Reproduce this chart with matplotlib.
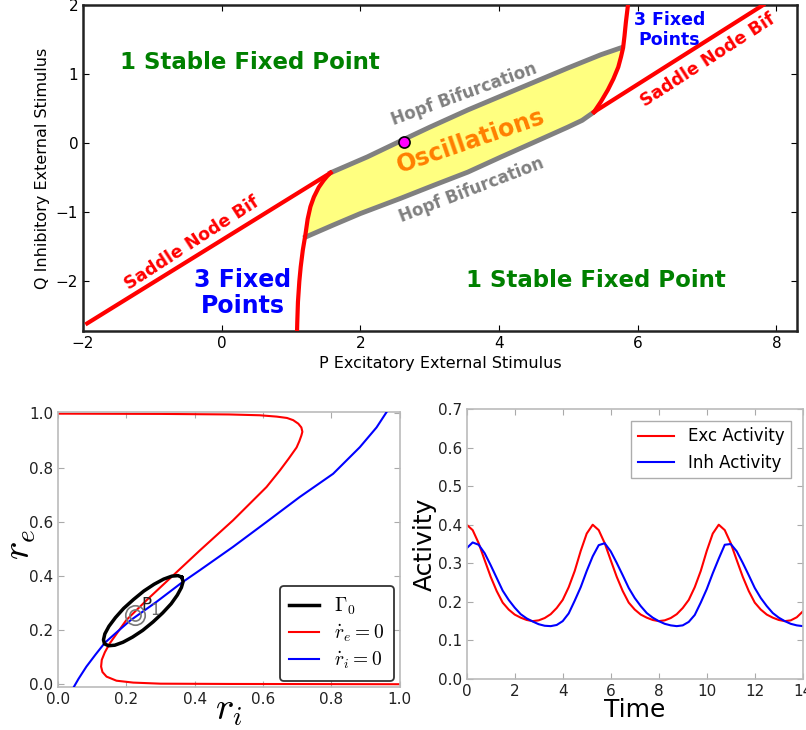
import numpy as np
import matplotlib
matplotlib.use('Agg')
import matplotlib.pyplot as plt

plt.rcParams['mathtext.fontset'] = 'cm'

# ---- bifurcation diagram (P, Q) ----
sn_left_p = [-1.94, 1.57]
sn_left_q = [-2.61, -0.43]
fold_left_p = [1.57, 1.52, 1.47, 1.40, 1.33, 1.28, 1.24, 1.21, 1.17, 1.14, 1.12, 1.10, 1.09, 1.085]
fold_left_q = [-0.43, -0.48, -0.54, -0.64, -0.78, -0.92, -1.10, -1.31, -1.55, -1.79, -2.0, -2.3, -2.6, -2.8]
hopf_up_p = [1.57, 1.8, 2.10, 2.62, 3.0, 3.55, 4.0, 4.50, 5.0, 5.47, 5.76]
hopf_up_q = [-0.43, -0.33, -0.20, 0.05, 0.23, 0.48, 0.67, 0.88, 1.09, 1.28, 1.38]
hopf_low_p = [1.21, 1.6, 2.0, 2.58, 3.06, 3.55, 4.03, 4.50, 4.99, 5.2, 5.37]
hopf_low_q = [-1.36, -1.19, -1.02, -0.80, -0.61, -0.42, -0.20, 0.01, 0.23, 0.33, 0.45]
fold_right_p = [5.37, 5.47, 5.57, 5.65, 5.72, 5.76, 5.79, 5.81, 5.83, 5.86, 5.87]
fold_right_q = [0.45, 0.60, 0.77, 0.93, 1.10, 1.25, 1.38, 1.55, 1.75, 2.0, 2.1]
sn_right_p = [5.37, 7.81]
sn_right_q = [0.45, 2.0]
point_p, point_q = 2.63, 0.02

# ---- phase plane (r_i, r_e) ----
re_null_ri = [0.0, 0.3, 0.5, 0.59, 0.64, 0.67, 0.688, 0.703, 0.712, 0.715, 0.712,
              0.706, 0.698, 0.675, 0.649, 0.61, 0.512, 0.415, 0.337, 0.259, 0.2,
              0.151, 0.137, 0.128, 0.126, 0.13, 0.142, 0.171, 0.22, 0.3, 0.5, 1.0]
re_null_re = [0.999, 0.998, 0.996, 0.993, 0.988, 0.983, 0.975, 0.962, 0.948, 0.932, 0.918,
              0.897, 0.874, 0.833, 0.789, 0.728, 0.605, 0.494, 0.402, 0.31, 0.237,
              0.15, 0.118, 0.09, 0.065, 0.045, 0.028, 0.013, 0.006, 0.002, 0.001, 0.0]
ri_null_ri = [0.044, 0.06, 0.083, 0.11, 0.137, 0.17, 0.21, 0.288, 0.361, 0.415,
              0.512, 0.61, 0.707, 0.805, 0.883, 0.932, 0.961]
ri_null_re = [-0.015, 0.02, 0.065, 0.11, 0.153, 0.19, 0.234, 0.304, 0.374, 0.421,
              0.507, 0.599, 0.691, 0.777, 0.875, 0.948, 1.004]
cycle_ri = [0.362, 0.366, 0.361, 0.349, 0.331, 0.306, 0.278, 0.248, 0.218, 0.190,
            0.166, 0.148, 0.136, 0.133, 0.137, 0.149, 0.168, 0.192, 0.221, 0.251,
            0.281, 0.309, 0.333, 0.351, 0.362]
cycle_re = [0.395, 0.379, 0.357, 0.329, 0.297, 0.263, 0.230, 0.199, 0.174, 0.155,
            0.144, 0.142, 0.149, 0.164, 0.186, 0.214, 0.246, 0.280, 0.313, 0.344,
            0.369, 0.388, 0.399, 0.401, 0.395]
p1_ri, p1_re = 0.225, 0.255

# ---- time series ----
time = [0.0, 0.25, 0.5, 0.75, 1.0, 1.25, 1.5, 1.75, 2.0, 2.25, 2.5, 2.75, 3.0, 3.25,
        3.5, 3.75, 4.0, 4.25, 4.5, 4.75, 5.0, 5.25, 5.5, 5.75, 6.0, 6.25, 6.5, 6.75,
        7.0, 7.25, 7.5, 7.75, 8.0, 8.25, 8.5, 8.75, 9.0, 9.25, 9.5, 9.75, 10.0, 10.25,
        10.5, 10.75, 11.0, 11.25, 11.5, 11.75, 12.0, 12.25, 12.5, 12.75, 13.0, 13.25,
        13.5, 13.75, 14.0]
exc = [0.400, 0.386, 0.352, 0.308, 0.265, 0.228, 0.198, 0.180, 0.167, 0.159, 0.153,
       0.150, 0.152, 0.158, 0.168, 0.184, 0.205, 0.238, 0.280, 0.332, 0.377, 0.400,
       0.386, 0.352, 0.308, 0.265, 0.228, 0.198, 0.180, 0.167, 0.159, 0.153, 0.150,
       0.152, 0.158, 0.168, 0.184, 0.205, 0.238, 0.280, 0.332, 0.377, 0.400, 0.386,
       0.352, 0.308, 0.265, 0.228, 0.198, 0.180, 0.167, 0.159, 0.153, 0.150, 0.152,
       0.160, 0.175]
inh = [0.339, 0.354, 0.348, 0.326, 0.295, 0.262, 0.229, 0.205, 0.185, 0.168, 0.157,
       0.149, 0.142, 0.138, 0.137, 0.140, 0.150, 0.170, 0.203, 0.238, 0.280, 0.318,
       0.347, 0.352, 0.331, 0.301, 0.269, 0.236, 0.210, 0.189, 0.171, 0.159, 0.150,
       0.143, 0.139, 0.137, 0.139, 0.148, 0.166, 0.198, 0.233, 0.274, 0.312, 0.348,
       0.350, 0.331, 0.301, 0.269, 0.236, 0.210, 0.189, 0.171, 0.159, 0.150, 0.143,
       0.139, 0.137]

fig = plt.figure(figsize=(8.06, 7.30), dpi=100)

# top panel: bifurcation diagram
ax = fig.add_axes([0.103, 0.5466, 0.886, 0.4466])
fill_p = hopf_up_p + fold_right_p[6::-1] + hopf_low_p[::-1] + fold_left_p[7::-1]
fill_q = hopf_up_q + fold_right_q[6::-1] + hopf_low_q[::-1] + fold_left_q[7::-1]
ax.fill(fill_p, fill_q, color='#ffff80', zorder=1)
ax.plot(hopf_up_p, hopf_up_q, color='#808080', lw=3.5, zorder=2)
ax.plot(hopf_low_p, hopf_low_q, color='#808080', lw=3.5, zorder=2)
for pp, qq in [(sn_left_p, sn_left_q), (fold_left_p, fold_left_q),
               (fold_right_p, fold_right_q), (sn_right_p, sn_right_q)]:
    ax.plot(pp, qq, color='red', lw=3, zorder=3)
ax.plot(point_p, point_q, 'o', ms=8, mfc='magenta', mec='black', mew=1.2, zorder=4)

ax.text(0.41, 1.16, '1 Stable Fixed Point', color='green', fontsize=16.5,
        fontweight='bold', ha='center', va='center')
ax.text(5.40, -1.99, '1 Stable Fixed Point', color='green', fontsize=16.5,
        fontweight='bold', ha='center', va='center')
ax.text(0.30, -2.17, '3 Fixed\nPoints', color='blue', fontsize=17,
        fontweight='bold', ha='center', va='center', linespacing=1.1)
ax.text(6.46, 1.64, '3 Fixed\nPoints', color='blue', fontsize=12.5,
        fontweight='bold', ha='center', va='center', linespacing=1.1)
ax.text(-0.43, -1.45, 'Saddle Node Bif', color='red', fontsize=12.5, fontweight='bold',
        ha='center', va='center', rotation=33, rotation_mode='anchor')
ax.text(7.01, 1.20, 'Saddle Node Bif', color='red', fontsize=12.5, fontweight='bold',
        ha='center', va='center', rotation=33, rotation_mode='anchor')
ax.text(3.49, 0.71, 'Hopf Bifurcation', color='#808080', fontsize=12, fontweight='bold',
        ha='center', va='center', rotation=20, rotation_mode='anchor')
ax.text(3.61, -0.68, 'Hopf Bifurcation', color='#808080', fontsize=12, fontweight='bold',
        ha='center', va='center', rotation=21, rotation_mode='anchor')
ax.text(3.59, 0.03, 'Oscillations', color='#ff7f00', fontsize=17, fontweight='bold',
        ha='center', va='center', rotation=19, rotation_mode='anchor')

ax.set_xlim(-2, 8.3)
ax.set_ylim(-2.72, 2)
ax.set_xticks([-2, 0, 2, 4, 6, 8])
ax.set_yticks([-2, -1, 0, 1, 2])
ax.set_xticklabels(['\u22122', '0', '2', '4', '6', '8'])
ax.set_yticklabels(['\u22122', '\u22121', '0', '1', '2'])
ax.tick_params(direction='in', top=True, right=True, labelsize=11, length=4)
for s in ax.spines.values():
    s.set_linewidth(1.8)
    s.set_color('#222222')
ax.set_xlabel('P Excitatory External Stimulus', fontsize=11.5)
ax.set_ylabel('Q Inhibitory External Stimulus', fontsize=11.5)

# bottom left: phase plane
ax2 = fig.add_axes([0.072, 0.059, 0.424, 0.3766])
ax2.plot(cycle_ri, cycle_re, color='black', lw=2.5, label=r'$\Gamma_0$', zorder=4)
ax2.plot(re_null_ri, re_null_re, color='red', lw=1.5, label=r'$\dot{r}_e=0$', zorder=2)
ax2.plot(ri_null_ri, ri_null_re, color='blue', lw=1.5, label=r'$\dot{r}_i=0$', zorder=3)
ax2.plot(p1_ri, p1_re, 'o', ms=14, mfc='none', mec='#777777', mew=1.2, zorder=5)
ax2.plot(p1_ri, p1_re, 'o', ms=8, mfc='none', mec='#777777', mew=1.2, zorder=5)
ax2.text(p1_ri + 0.018, p1_re + 0.02, 'P', fontsize=12, color='#222222', zorder=6)
ax2.text(p1_ri + 0.045, p1_re + 0.0, '1', fontsize=11, color='#666666', zorder=6)
ax2.set_xlim(0, 1.0)
ax2.set_ylim(-0.01, 1.005)
ax2.set_xticks(np.arange(0, 1.01, 0.2))
ax2.set_yticks(np.arange(0, 1.01, 0.2))
ax2.set_xticklabels(['0.0', '0.2', '0.4', '0.6', '0.8', '1.0'])
ax2.set_yticklabels(['0.0', '0.2', '0.4', '0.6', '0.8', '1.0'])
ax2.set_xlabel(r'$r_i$', fontsize=28)
ax2.set_ylabel(r'$r_e$', fontsize=28)
ax2.xaxis.set_label_coords(0.5, -0.01)
ax2.yaxis.set_label_coords(-0.06, 0.52)
leg = ax2.legend(loc='lower right', fontsize=14, fancybox=True, borderaxespad=0.3,
                 handlelength=1.5, labelspacing=0.3, borderpad=0.5)
leg.get_frame().set_edgecolor('black')
leg.get_frame().set_linewidth(1.3)

# bottom right: time series
ax3 = fig.add_axes([0.579, 0.0699, 0.417, 0.3698])
ax3.plot(time, exc, color='red', lw=1.5, label='Exc Activity')
ax3.plot(time, inh, color='blue', lw=1.5, label='Inh Activity')
ax3.set_xlim(0, 14)
ax3.set_ylim(0, 0.7)
ax3.set_xticks(np.arange(0, 15, 2))
ax3.set_yticks(np.arange(0, 0.71, 0.1))
ax3.set_yticklabels(['0.0', '0.1', '0.2', '0.3', '0.4', '0.5', '0.6', '0.7'])
ax3.set_xlabel('Time', fontsize=18)
ax3.set_ylabel('Activity', fontsize=18)
ax3.xaxis.set_label_coords(0.5, -0.07)
ax3.yaxis.set_label_coords(-0.09, 0.5)
leg3 = ax3.legend(loc='upper right', fontsize=12, fancybox=False, borderaxespad=0.7,
                  handlelength=2.2)
leg3.get_frame().set_edgecolor('#999999')

for a in (ax2, ax3):
    a.tick_params(direction='in', top=True, right=True, labelsize=11, length=4,
                  color='#aaaaaa', labelcolor='#222222')
    for s in a.spines.values():
        s.set_color('#bbbbbb')
        s.set_linewidth(1.2)

fig.savefig('out.png', dpi=100)
